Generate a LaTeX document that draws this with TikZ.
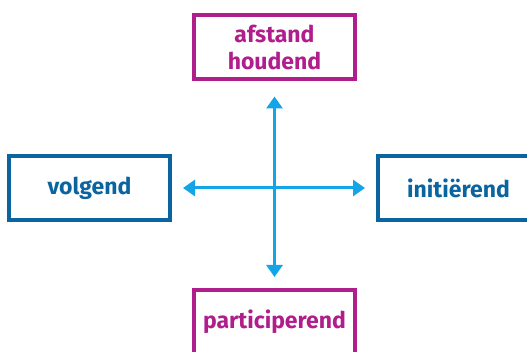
\documentclass[tikz,border=0pt]{standalone}
\usepackage{fontspec}
\setmainfont{Fira Sans}
\usepackage{xcolor}
\usetikzlibrary{arrows.meta}
\definecolor{paars}{HTML}{B01E8C}
\definecolor{donkerblauw}{HTML}{0A64A0}
\definecolor{lichtblauw}{HTML}{14A5E6}

\begin{document}
\begin{tikzpicture}[x=1pt,y=-1pt,
    box/.style={draw,line width=4pt,minimum width=161pt,minimum height=64pt,
        font=\fontsize{23}{27}\selectfont\bfseries,align=center,inner sep=0pt},
    paarsbox/.style={box,draw=paars,text=paars},
    blauwbox/.style={box,draw=donkerblauw,text=donkerblauw},
    pijl/.style={draw=lichtblauw,line width=3pt,
        {Triangle[length=12pt,width=16pt]}-{Triangle[length=12pt,width=16pt]}}]
    \useasboundingbox (0,0) rectangle (527,352);
    \clip (0,0) rectangle (527,352);
    \node[paarsbox] (afstand) at (274.5,47.5) {afstand\\houdend};
    \node[blauwbox] (volgend) at (89.5,188) {volgend};
    \node[blauwbox] (initierend) at (458.5,188) {initiërend};
    \node[paarsbox] (participerend) at (274.5,322) {participerend};
    \draw[pijl,shorten <=11pt,shorten >=11pt] (volgend) -- (initierend);
    \draw[pijl,shorten <=15pt,shorten >=11pt] (afstand) -- (participerend);
\end{tikzpicture}
\end{document}
